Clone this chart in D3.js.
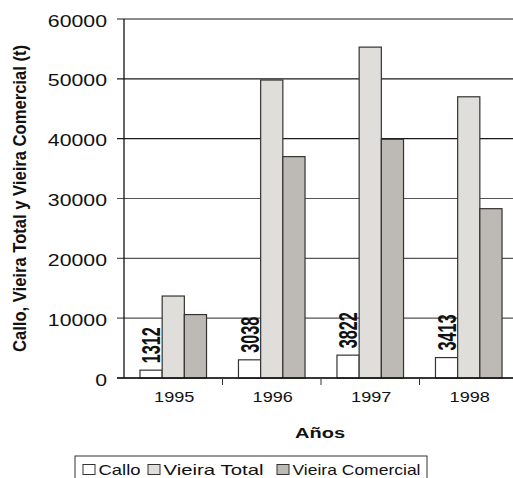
<!DOCTYPE html>
<html>
<head>
<meta charset="utf-8">
<script src="https://cdn.jsdelivr.net/npm/d3@7"></script>
<style>
  body { margin: 0; background: #fff; }
  svg { display: block; }
  text { font-family: "Liberation Sans", Arial, sans-serif; fill: #111; }
</style>
</head>
<body>
<svg id="chart" width="513" height="478"></svg>
<script>
// データ
const years = ['1995', '1996', '1997', '1998'];
const seriesNames = ['Callo', 'Vieira Total', 'Vieira Comercial'];
const callo = [1312, 3038, 3822, 3413];
const vieiraTotal = [13700, 49800, 55300, 47000];
const vieiraComercial = [10600, 37000, 39900, 28300];
const yTicks = [0, 10000, 20000, 30000, 40000, 50000, 60000];

const colors = ['#ffffff', '#e0dedb', '#bdbab5'];

const svg = d3.select('#chart');

const x = d3.scaleBand().domain(years).range([124, 518]).padding(0);
const x1 = d3.scaleBand().domain(seriesNames).range([0, x.bandwidth()]).paddingInner(0).paddingOuter(0.72);
const y = d3.scaleLinear().domain([0, 60000]).range([378, 19]);

// グリッド線
svg.append('g')
  .selectAll('line')
  .data(yTicks)
  .enter()
  .append('line')
  .attr('x1', 117)
  .attr('x2', 513)
  .attr('y1', d => y(d))
  .attr('y2', d => y(d))
  .attr('stroke', d => d >= 40000 ? '#1a1a1a' : '#555')
  .attr('stroke-width', 1.2);

// Y軸ラベル(横に引き伸ばす)
svg.append('g')
  .selectAll('text')
  .data(yTicks)
  .enter()
  .append('text')
  .attr('transform', d => `translate(107,${y(d) + 7.5}) scale(1.33,1)`)
  .attr('text-anchor', 'end')
  .style('font-size', '16px')
  .text(d => d);

// 棒
const rows = years.map((yr, i) => ({ year: yr, values: [callo[i], vieiraTotal[i], vieiraComercial[i]] }));

const groups = svg.append('g')
  .selectAll('g')
  .data(rows)
  .enter()
  .append('g')
  .attr('transform', d => `translate(${x(d.year)},0)`);

groups.selectAll('rect')
  .data(d => d.values.map((v, k) => ({ name: seriesNames[k], value: v, k: k })))
  .enter()
  .append('rect')
  .attr('x', d => x1(d.name))
  .attr('width', x1.bandwidth())
  .attr('y', d => y(d.value))
  .attr('height', d => y(0) - y(d.value))
  .attr('fill', d => colors[d.k])
  .attr('stroke', '#333')
  .attr('stroke-width', 1.2);

// Calloの値ラベル
groups.append('text')
  .attr('transform', d => {
    const cx = x1('Callo') + x1.bandwidth() / 2 + 9;
    const cy = y(d.values[0]) - 7;
    return `translate(${cx},${cy}) rotate(-90)`;
  })
  .attr('textLength', 36)
  .attr('lengthAdjust', 'spacingAndGlyphs')
  .style('font-weight', 'bold')
  .style('font-size', '25px')
  .text(d => d.values[0]);

// 軸
svg.append('line')
  .attr('x1', 117).attr('x2', 513)
  .attr('y1', y(0)).attr('y2', y(0))
  .attr('stroke', '#111').attr('stroke-width', 1.3);

svg.append('line')
  .attr('x1', 124).attr('x2', 124)
  .attr('y1', y(60000)).attr('y2', y(0))
  .attr('stroke', '#111').attr('stroke-width', 1.3);

svg.append('g')
  .selectAll('line')
  .data(years.slice(1))
  .enter()
  .append('line')
  .attr('x1', d => x(d)).attr('x2', d => x(d))
  .attr('y1', y(0)).attr('y2', y(0) + 7)
  .attr('stroke', '#333');

svg.append('g')
  .selectAll('text')
  .data(years)
  .enter()
  .append('text')
  .attr('transform', d => `translate(${x(d) + x.bandwidth() / 2 + 1},401.5) scale(1.25,1)`)
  .attr('text-anchor', 'middle')
  .style('font-size', '14.5px')
  .text(d => d);

// 軸タイトル
svg.append('text')
  .attr('x', 320)
  .attr('y', 438)
  .attr('text-anchor', 'middle')
  .attr('textLength', 50)
  .attr('lengthAdjust', 'spacingAndGlyphs')
  .style('font-weight', 'bold')
  .style('font-size', '14px')
  .text('Años');

svg.append('text')
  .attr('transform', 'translate(26,198.5) rotate(-90)')
  .attr('text-anchor', 'middle')
  .attr('textLength', 307)
  .attr('lengthAdjust', 'spacingAndGlyphs')
  .style('font-weight', 'bold')
  .style('font-size', '18px')
  .text('Callo, Vieira Total y Vieira Comercial (t)');

// 凡例
const legend = svg.append('g');
legend.append('rect')
  .attr('x', 75).attr('y', 456)
  .attr('width', 352).attr('height', 30)
  .attr('fill', '#fff')
  .attr('stroke', '#333');

const legendX = [83, 148, 277];
const legendLen = [42, 100, 128];
const items = legend.selectAll('g')
  .data(seriesNames)
  .enter()
  .append('g')
  .attr('transform', (d, i) => `translate(${legendX[i]},0)`);

items.append('rect')
  .attr('x', 0).attr('y', 464.5)
  .attr('width', 12).attr('height', 10)
  .attr('fill', (d, i) => colors[i])
  .attr('stroke', '#333');

items.append('text')
  .attr('x', 15.5).attr('y', 475)
  .attr('textLength', (d, i) => legendLen[i])
  .attr('lengthAdjust', 'spacingAndGlyphs')
  .style('font-size', '15px')
  .text(d => d);
</script>
</body>
</html>
